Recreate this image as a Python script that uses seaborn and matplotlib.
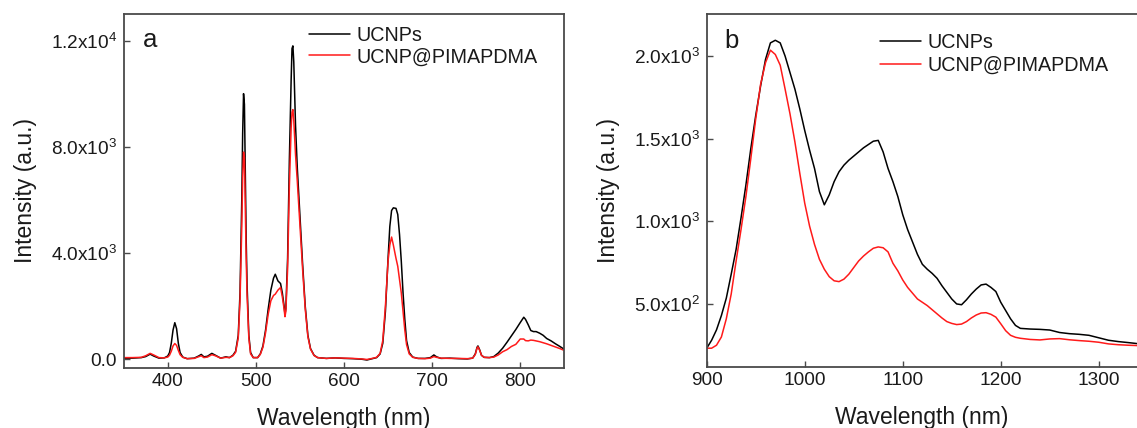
import matplotlib
matplotlib.use("Agg")
import matplotlib.pyplot as plt
import seaborn as sns
import pandas as pd
from matplotlib.ticker import FixedLocator, FixedFormatter
from matplotlib.lines import Line2D

# ---------------- data: panel a ----------------
wl_a = [350, 360, 370, 375, 380, 384, 390, 396, 400, 402, 404, 406, 408, 410, 412, 414, 417, 422,
        430, 435, 438, 441, 445, 450, 454, 460, 466, 470, 474, 477, 480, 482, 484, 485, 486, 487,
        488, 489, 490, 492, 494, 497, 502, 505, 508, 511, 514, 517, 520, 522, 525, 528, 530, 532,
        533, 534, 536, 538, 540, 541, 542, 543, 545, 547, 549, 551, 553, 556, 559, 562, 566, 570,
        580, 590, 600, 610, 620, 626, 632, 637, 641, 644, 647, 650, 652, 654, 656, 659, 661, 663,
        665, 667, 669, 671, 674, 678, 684, 692, 698, 702, 705, 710, 720, 730, 740, 746, 749, 751,
        752, 754, 756, 759, 765, 770, 775, 780, 785, 790, 795, 800, 804, 806, 809, 812, 815, 818,
        822, 826, 830, 835, 840, 845, 850]
ucnps_a = [40, 40, 60, 100, 190, 120, 40, 50, 120, 250, 600, 1100, 1375, 1150, 600, 250, 80, 20,
           40, 120, 180, 90, 110, 220, 150, 40, 90, 60, 150, 300, 900, 2500, 6000, 8500, 10000, 9600,
           7000, 4500, 2800, 900, 250, 60, 60, 200, 500, 1100, 1900, 2600, 3050, 3200, 2950, 2850, 2500, 2000,
           1700, 1900, 3800, 7500, 10500, 11700, 11800, 11200, 8800, 7200, 6000, 4800, 3600, 2000, 900, 400, 150, 60,
           30, 50, 30, 20, 0, -30, 20, 60, 200, 600, 1800, 3800, 5000, 5600, 5700, 5680, 5450, 4700,
           3700, 2500, 1500, 700, 250, 80, 30, 30, 60, 160, 90, 30, 40, 20, 10, 40, 200, 450,
           500, 350, 150, 70, 60, 100, 230, 413, 640, 880, 1120, 1380, 1580, 1500, 1300, 1080, 1040, 1040,
           980, 900, 780, 690, 580, 480, 370]
pimapdma_a = [60, 60, 70, 130, 220, 160, 60, 50, 80, 150, 300, 500, 590, 520, 330, 170, 70, 20,
              30, 90, 130, 60, 80, 170, 130, 40, 70, 60, 130, 260, 800, 2200, 5000, 6800, 7800, 7600,
              5600, 3800, 2400, 800, 200, 60, 60, 180, 450, 1000, 1700, 2200, 2400, 2450, 2600, 2700, 2350, 1900,
              1600, 1800, 3400, 6500, 8700, 9300, 9400, 9000, 7700, 6700, 5600, 4500, 3400, 1900, 850, 380, 140, 60,
              30, 50, 40, 30, 10, -10, 30, 70, 220, 700, 2000, 3700, 4300, 4600, 4300, 3800, 3500, 3000,
              2500, 1800, 1100, 550, 200, 70, 30, 20, 40, 100, 70, 40, 30, 30, 20, 40, 180, 420,
              470, 330, 150, 70, 60, 80, 160, 280, 360, 480, 560, 760, 760, 700, 690, 720, 710, 690,
              660, 620, 580, 520, 460, 400, 330]

# ---------------- data: panel b ----------------
wl_b = [900, 905, 910, 915, 920, 925, 930, 935, 940, 945, 950, 955, 960, 965, 970, 975, 980, 985, 990,
        995, 1000, 1005, 1010, 1015, 1020, 1025, 1030, 1035, 1040, 1045, 1050, 1055, 1060, 1065, 1070,
        1075, 1080, 1085, 1090, 1095, 1100, 1105, 1110, 1115, 1120, 1125, 1130, 1135, 1140, 1145, 1150,
        1155, 1160, 1165, 1170, 1175, 1180, 1185, 1190, 1195, 1200, 1205, 1210, 1215, 1220, 1230, 1240,
        1250, 1260, 1270, 1280, 1290, 1300, 1310, 1320, 1330, 1339]
ucnps_b = [232, 280, 343, 430, 535, 680, 830, 1020, 1220, 1440, 1640, 1820, 1980, 2080, 2096, 2080, 2000,
           1900, 1800, 1680, 1550, 1430, 1320, 1180, 1100, 1160, 1240, 1300, 1340, 1370, 1395, 1420, 1445,
           1465, 1485, 1490, 1420, 1320, 1240, 1150, 1040, 950, 875, 800, 740, 710, 685, 655, 610, 570, 530,
           500, 495, 525, 560, 590, 615, 620, 600, 575, 510, 460, 410, 370, 352, 348, 346, 342, 327, 320,
           316, 310, 295, 280, 272, 266, 260]
pimapdma_b = [232, 232, 250, 300, 410, 560, 760, 950, 1150, 1380, 1620, 1830, 1960, 2036, 2010, 1945, 1800,
              1650, 1480, 1290, 1110, 970, 860, 770, 710, 665, 640, 635, 650, 680, 720, 760, 790, 815, 837,
              845, 840, 815, 746, 700, 645, 600, 565, 530, 510, 490, 465, 440, 415, 393, 382, 375, 378, 393,
              415, 433, 445, 447, 437, 420, 380, 338, 310, 298, 292, 285, 282, 288, 290, 283, 278, 274, 268,
              258, 253, 250, 248]

series_names = ["UCNPs", "UCNP@PIMAPDMA"]
xticks_a = [400, 500, 600, 700, 800]
yticks_a = [0, 4000, 8000, 12000]
yticklabels_a = ["0.0", r"4.0x10$^{3}$", r"8.0x10$^{3}$", r"1.2x10$^{4}$"]
xticks_b = [900, 1000, 1100, 1200, 1300]
yticks_b = [500, 1000, 1500, 2000]
yticklabels_b = [r"5.0x10$^{2}$", r"1.0x10$^{3}$", r"1.5x10$^{3}$", r"2.0x10$^{3}$"]

# ---------------- style ----------------
sns.set_theme(style="ticks")
plt.rcParams["font.family"] = ["Liberation Sans", "DejaVu Sans"]
plt.rcParams["mathtext.fontset"] = "custom"
plt.rcParams["mathtext.rm"] = "Liberation Sans"
plt.rcParams["mathtext.it"] = "Liberation Sans"
plt.rcParams["mathtext.default"] = "regular"

TXT = "#1a1a1a"
SPINE = "#4a4a4a"
palette = {"UCNPs": "#000000", "UCNP@PIMAPDMA": "#ff1a1a"}

W, H = 1137, 428
fig = plt.figure(figsize=(W / 100, H / 100), dpi=100)
fig.patch.set_facecolor("white")


def px_rect(l, t, r, b):
    return [l / W, 1 - b / H, (r - l) / W, (b - t) / H]


def make_df(wl, a, b):
    return pd.DataFrame({
        "wl": list(wl) + list(wl),
        "val": list(a) + list(b),
        "series": [series_names[0]] * len(wl) + [series_names[1]] * len(wl),
    })


def style_axes(ax, xt, yt, ytl):
    ax.xaxis.set_major_locator(FixedLocator(xt))
    ax.set_xticklabels([str(v) for v in xt])
    ax.yaxis.set_major_locator(FixedLocator(yt))
    ax.yaxis.set_major_formatter(FixedFormatter(ytl))
    ax.tick_params(axis="both", direction="in", length=4.5, width=1.0, color=SPINE,
                   labelsize=13.7, labelcolor=TXT)
    ax.tick_params(axis="y", pad=5)
    ax.tick_params(axis="x", pad=4)
    for s in ax.spines.values():
        s.set_color(SPINE)
        s.set_linewidth(1.3)
    ax.set_xlabel("Wavelength (nm)", fontsize=16.5, color=TXT, labelpad=12)
    ax.set_ylabel("Intensity (a.u.)", fontsize=16.5, color=TXT, labelpad=10)
    ax.set_facecolor("white")


# ---------------- panel a ----------------
ax1 = fig.add_axes(px_rect(123.7, 14, 564.3, 367.7))
sns.lineplot(data=make_df(wl_a, ucnps_a, pimapdma_a), x="wl", y="val", hue="series",
             palette=palette, estimator=None, sort=False, linewidth=1.1, ax=ax1, legend=False)
ax1.set_xlim(350, 850)
ax1.set_ylim(-320, 13000)
style_axes(ax1, xticks_a, yticks_a, yticklabels_a)
ax1.text(143 / W, 1 - 46.7 / H, "a", transform=fig.transFigure, fontsize=18.5,
         ha="left", va="baseline", color=TXT)

# ---------------- panel b ----------------
ax2 = fig.add_axes(px_rect(706.7, 14, 1137, 366.7))
sns.lineplot(data=make_df(wl_b, ucnps_b, pimapdma_b), x="wl", y="val", hue="series",
             palette=palette, estimator=None, sort=False, linewidth=1.1, ax=ax2, legend=False)
ax2.set_xlim(900, 1339)
ax2.set_ylim(120, 2255)
style_axes(ax2, xticks_b, yticks_b, yticklabels_b)
ax2.spines["right"].set_visible(False)
ax2.text(724 / W, 1 - 48.3 / H, "b", transform=fig.transFigure, fontsize=18.5,
         ha="left", va="baseline", color=TXT)

# ---------------- legends ----------------
handles = [Line2D([], [], color=palette[n], linewidth=1.1) for n in series_names]

for ax, x0, ytop, sp in [(ax1, 309, 26, 0.12), (ax2, 880, 33, 0.2)]:
    ax.legend(handles, series_names, loc="upper left",
              bbox_to_anchor=(x0 / W, 1 - ytop / H), bbox_transform=fig.transFigure,
              frameon=False, fontsize=14.2, handlelength=2.1, handletextpad=0.33,
              labelspacing=sp, borderpad=0, borderaxespad=0, labelcolor=TXT)

fig.savefig("out.png", dpi=100, facecolor="white")
